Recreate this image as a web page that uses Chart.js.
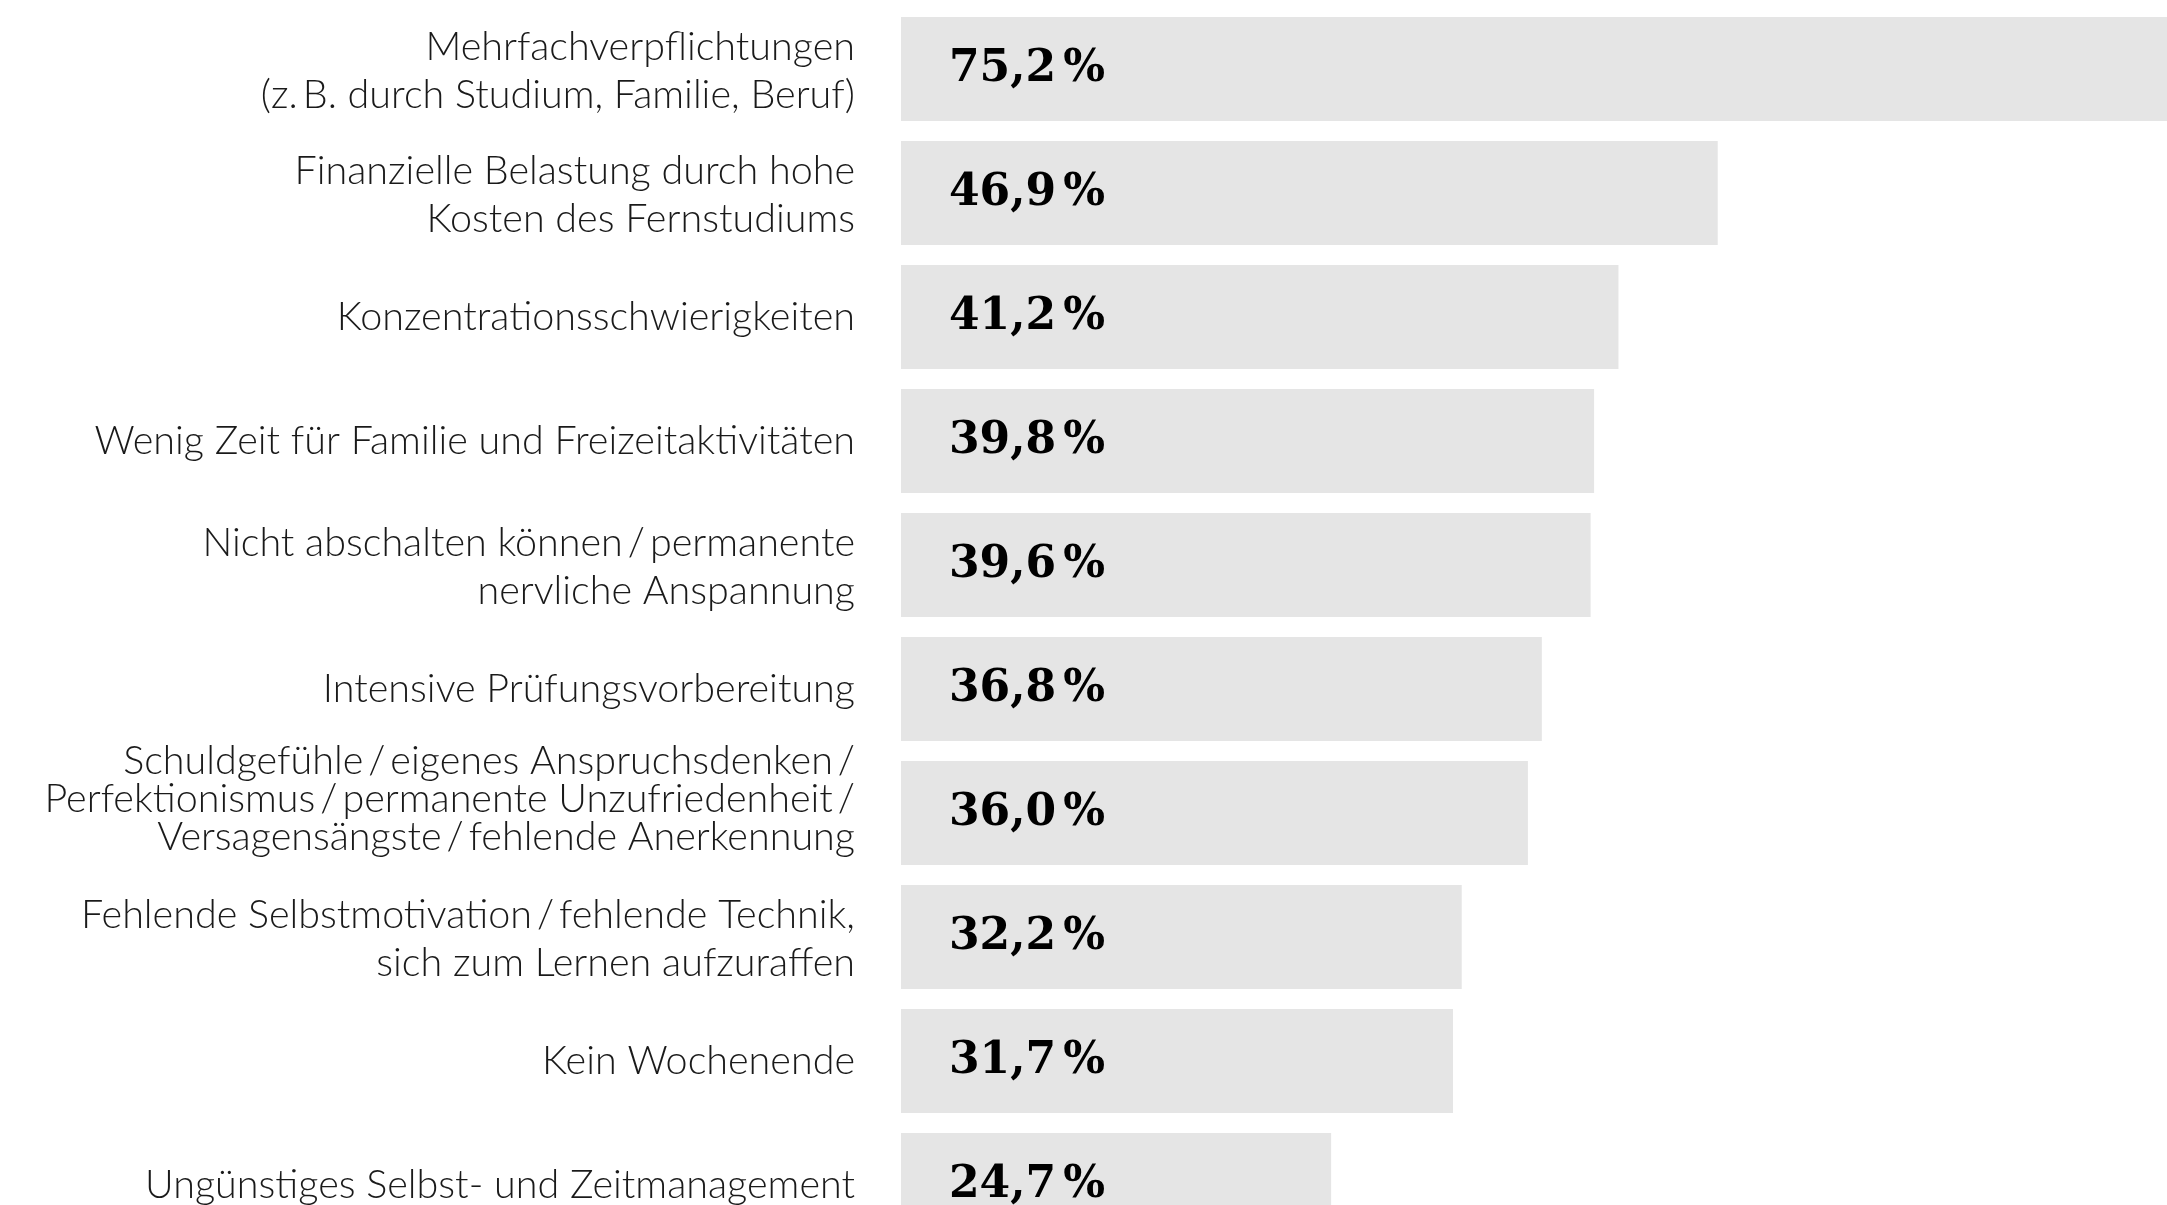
<!DOCTYPE html>
<html>
<head>
<meta charset="utf-8">
<script src="https://cdn.jsdelivr.net/npm/chart.js@4/dist/chart.umd.min.js"></script>
<style>
  html, body { margin: 0; padding: 0; background: #ffffff; overflow: hidden; }
  #wrap { position: absolute; left: 0; top: 0; width: 2167px; height: 1247px; }
</style>
</head>
<body>
<div id="wrap"><canvas id="c"></canvas></div>
<script>
const categories = [
  ["Mehrfachverpflichtungen", "(z.\u2009B. durch Studium, Familie, Beruf)"],
  ["Finanzielle Belastung durch hohe", "Kosten des Fernstudiums"],
  "Konzentrationsschwierigkeiten",
  "Wenig Zeit für Familie und Freizeitaktivitäten",
  ["Nicht abschalten können\u2009/\u2009permanente", "nervliche Anspannung"],
  "Intensive Prüfungsvorbereitung",
  ["Schuldgefühle\u2009/\u2009eigenes Anspruchsdenken\u2009/", "Perfektionismus\u2009/\u2009permanente Unzufriedenheit\u2009/", "Versagensängste\u2009/\u2009fehlende Anerkennung"],
  ["Fehlende Selbstmotivation\u2009/\u2009fehlende Technik,", "sich zum Lernen aufzuraffen"],
  "Kein Wochenende",
  "Ungünstiges Selbst- und Zeitmanagement"
];
const values = [75.2, 46.9, 41.2, 39.8, 39.6, 36.8, 36.0, 32.2, 31.7, 24.7];
const visibleMax = 72.7;

// nudges the three-line label block upwards, as in the original layout
const labelNudge = {
  id: 'labelNudge',
  beforeDraw(chart) {
    const items = chart.scales.y.getLabelItems();
    items.forEach((item) => {
      const n = Array.isArray(item.label) ? item.label.length : 1;
      if (n > 2) item.textOffset -= 14;
      else if (n === 2) item.textOffset += 2;
    });
  }
};

const valueLabels = {
  id: 'valueLabels',
  afterDatasetsDraw(chart) {
    const ctx = chart.ctx;
    const meta = chart.getDatasetMeta(0);
    const x0 = chart.scales.x.getPixelForValue(0);
    ctx.save();
    ctx.font = 'bold 44px "DejaVu Serif", "Liberation Serif", serif';
    ctx.fillStyle = '#000000';
    ctx.textAlign = 'left';
    ctx.textBaseline = 'middle';
    meta.data.forEach((bar, i) => {
      const num = values[i].toFixed(1).replace('.', ',');
      const x = x0 + 48;
      ctx.fillText(num, x, bar.y + 1);
      ctx.fillText('%', x + ctx.measureText(num).width + 7, bar.y + 1);
    });
    ctx.restore();
  }
};

new Chart(document.getElementById('c'), {
  type: 'bar',
  data: {
    labels: categories,
    datasets: [{
      data: values,
      backgroundColor: '#e5e5e5',
      borderWidth: 0,
      barPercentage: 1,
      categoryPercentage: 104 / 124
    }]
  },
  options: {
    indexAxis: 'y',
    responsive: true,
    maintainAspectRatio: false,
    animation: false,
    layout: { padding: { top: 7, bottom: 0, left: 0, right: 0 } },
    plugins: { legend: { display: false }, tooltip: { enabled: false } },
    scales: {
      x: { min: 0, max: visibleMax, display: false },
      y: {
        grid: { display: false, drawTicks: false },
        border: { display: false },
        afterFit(scale) {
          scale.width = 901;
          scale.paddingTop = 0;
          scale.paddingBottom = 0;
        },
        ticks: {
          padding: 46,
          color: '#1a1a1a',
          font: (ctx) => {
            const lbl = categories[ctx.index];
            const n = Array.isArray(lbl) ? lbl.length : 1;
            return { family: 'Lato, "Open Sans", sans-serif', size: 39.5, weight: 300, lineHeight: (n > 2 ? 38 : 48) / 39.5 };
          }
        }
      }
    }
  },
  plugins: [labelNudge, valueLabels]
});
</script>
</body>
</html>
